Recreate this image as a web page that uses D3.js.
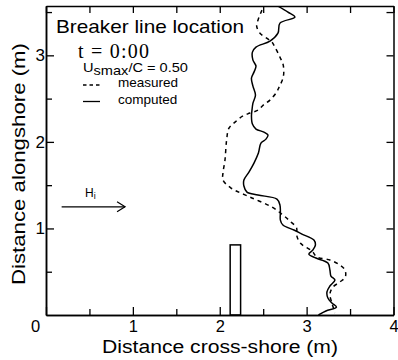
<!DOCTYPE html>
<html>
<head>
<meta charset="utf-8">
<script src="https://cdn.jsdelivr.net/npm/d3@7"></script>
<style>
  html, body { margin: 0; padding: 0; background: #fff; }
  svg { display: block; }
  text { fill: #000; }
</style>
</head>
<body>
<svg id="chart" width="398" height="360"></svg>
<script>
// Breaker line position along the shore: measured vs computed (t = 0:00)
const xTickValues = [0, 1, 2, 3, 4];
const yTickValues = [1, 2, 3];
const minorTickValuesX = [0.5, 1.5, 2.5, 3.5];
const minorTickValuesY = [0.5, 1.5, 2.5, 3.5];

// computed breaker line (cross-shore, alongshore) in metres
const computedCross = [2.67, 2.785, 2.865, 2.693, 2.67, 2.578, 2.417, 2.376, 2.382, 2.417, 2.394, 2.365, 2.382, 2.411, 2.382, 2.371, 2.365, 2.376, 2.417, 2.509, 2.555, 2.532, 2.474, 2.445, 2.394, 2.336, 2.278, 2.278, 2.313, 2.44, 2.658, 2.693, 2.698, 2.698, 2.727, 2.854, 2.946, 3.084, 3.101, 3.072, 3.026, 3.107, 3.245, 3.268, 3.28, 3.326, 3.268, 3.234, 3.245, 3.291, 3.343, 3.222, 3.136];
const computedAlong = [3.568, 3.499, 3.441, 3.372, 3.256, 3.164, 3.095, 3.037, 2.945, 2.875, 2.806, 2.737, 2.644, 2.54, 2.448, 2.367, 2.298, 2.206, 2.148, 2.113, 2.079, 2.032, 1.986, 1.871, 1.755, 1.651, 1.559, 1.49, 1.42, 1.386, 1.339, 1.27, 1.189, 1.097, 1.039, 0.982, 0.935, 0.866, 0.808, 0.751, 0.704, 0.658, 0.6, 0.52, 0.45, 0.404, 0.335, 0.266, 0.196, 0.139, 0.092, 0.046, 0.0];

// measured breaker line
const measuredCross = [2.486, 2.44, 2.425, 2.463, 2.54, 2.601, 2.635, 2.693, 2.731, 2.731, 2.683, 2.655, 2.578, 2.501, 2.44, 2.347, 2.262, 2.176, 2.106, 2.079, 2.06, 2.037, 2.037, 2.13, 2.347, 2.601, 2.727, 2.808, 2.885, 2.885, 2.927, 3.061, 3.119, 3.268, 3.384, 3.441, 3.446, 3.383, 3.303, 3.268, 3.291, 3.326];
const measuredAlong = [3.522, 3.406, 3.337, 3.256, 3.199, 3.152, 3.095, 2.979, 2.887, 2.748, 2.633, 2.575, 2.483, 2.425, 2.367, 2.333, 2.298, 2.229, 2.159, 2.021, 1.79, 1.64, 1.559, 1.467, 1.363, 1.247, 1.155, 1.085, 1.005, 0.924, 0.831, 0.739, 0.67, 0.635, 0.577, 0.52, 0.439, 0.381, 0.323, 0.242, 0.139, 0.023];

// structure footprint (cross-shore edges, alongshore extent)
const structureCross = [2.12, 2.24];
const structureAlong = [0, 0.81];

// incident wave direction arrow
const waveArrowCross = [0.18, 0.91];
const waveArrowAlong = 1.25;

const svg = d3.select("#chart");
const plotLeft = 46, plotRight = 393.5, plotTop = 6, plotBottom = 315;

const x = d3.scaleLinear().domain([0, 4]).range([plotLeft, plotRight]);
const y = d3.scaleLinear().domain([0, 3.57]).range([plotBottom, plotTop]);

const sans = "'Liberation Sans', Arial, Helvetica, sans-serif";
const serif = "'Liberation Serif', 'Times New Roman', serif";

function styleAxis(g) {
  g.selectAll("path.domain").attr("stroke", "#000").attr("stroke-width", 1.5);
  g.selectAll(".tick line").attr("stroke", "#000").attr("stroke-width", 1.3);
  g.selectAll(".tick text").attr("font-family", sans).attr("font-size", 17).attr("fill", "#000");
}

// bottom axis with labels
const gx = svg.append("g").attr("transform", `translate(0,${plotBottom})`)
  .call(d3.axisBottom(x).tickValues(xTickValues).tickSize(-8).tickSizeOuter(0).tickPadding(5).tickFormat(d3.format("d")));
styleAxis(gx);
gx.selectAll(".tick text").attr("font-size", 16.5);
gx.selectAll(".tick text").filter(d => d === 0).attr("dx", -11);
svg.append("g").attr("transform", `translate(0,${plotBottom})`)
  .call(d3.axisBottom(x).tickValues(minorTickValuesX).tickSize(-6).tickSizeOuter(0).tickFormat(""))
  .call(styleAxis);

// left axis with labels
const gy = svg.append("g").attr("transform", `translate(${plotLeft},0)`)
  .call(d3.axisLeft(y).tickValues(yTickValues).tickSize(-8).tickSizeOuter(0).tickPadding(1).tickFormat(d3.format("d")));
styleAxis(gy);
svg.append("g").attr("transform", `translate(${plotLeft},0)`)
  .call(d3.axisLeft(y).tickValues(minorTickValuesY).tickSize(-6).tickSizeOuter(0).tickFormat(""))
  .call(styleAxis);

// top and right frame with inward ticks
svg.append("g").attr("transform", `translate(0,${plotTop})`)
  .call(d3.axisTop(x).tickValues(xTickValues.concat(minorTickValuesX)).tickSize(-7).tickSizeOuter(0).tickFormat(""))
  .call(styleAxis);
svg.append("g").attr("transform", `translate(${plotRight},0)`)
  .call(d3.axisRight(y).tickValues(yTickValues.concat(minorTickValuesY)).tickSize(-7).tickSizeOuter(0).tickFormat(""))
  .call(styleAxis);

// axis titles
svg.append("text")
  .attr("x", 220).attr("y", 353)
  .attr("text-anchor", "middle")
  .attr("font-family", sans).attr("font-size", 18)
  .attr("textLength", 236).attr("lengthAdjust", "spacingAndGlyphs")
  .text("Distance cross-shore (m)");
svg.append("text")
  .attr("transform", "translate(25,164) rotate(-90)")
  .attr("text-anchor", "middle")
  .attr("font-family", sans).attr("font-size", 19)
  .attr("textLength", 242).attr("lengthAdjust", "spacingAndGlyphs")
  .text("Distance alongshore (m)");

svg.append("clipPath").attr("id", "plot-clip")
  .append("rect").attr("x", plotLeft).attr("y", plotTop)
  .attr("width", plotRight - plotLeft).attr("height", plotBottom - plotTop);

const line = d3.line().x(d => x(d[0])).y(d => y(d[1])).curve(d3.curveCatmullRom.alpha(0.5));

const computed = d3.zip(computedCross, computedAlong);
const measured = d3.zip(measuredCross, measuredAlong);

const plot = svg.append("g").attr("clip-path", "url(#plot-clip)");
plot.append("path").datum(measured)
  .attr("d", line).attr("fill", "none").attr("stroke", "#000")
  .attr("stroke-width", 1.5).attr("stroke-dasharray", "4,4");
plot.append("path").datum(computed)
  .attr("d", line).attr("fill", "none").attr("stroke", "#000")
  .attr("stroke-width", 1.5);

// structure
plot.append("rect")
  .attr("x", x(structureCross[0])).attr("y", y(structureAlong[1]))
  .attr("width", x(structureCross[1]) - x(structureCross[0]))
  .attr("height", y(structureAlong[0]) - y(structureAlong[1]))
  .attr("fill", "none").attr("stroke", "#000").attr("stroke-width", 1.5);

// annotations
const ann = svg.append("g");
ann.append("text").attr("x", 56).attr("y", 33)
  .attr("font-family", sans).attr("font-size", 18.5)
  .attr("textLength", 188).attr("lengthAdjust", "spacingAndGlyphs")
  .text("Breaker line location");
ann.append("text").attr("x", 78).attr("y", 57.5)
  .attr("font-family", serif).attr("font-size", 20)
  .attr("textLength", 71).attr("lengthAdjust", "spacing")
  .text("t = 0:00");

const usm = ann.append("text").attr("x", 83).attr("y", 72)
  .attr("font-family", sans).attr("font-size", 13.5)
  .attr("textLength", 105).attr("lengthAdjust", "spacingAndGlyphs");
usm.append("tspan").text("U");
usm.append("tspan").attr("dy", 2.5).text("smax");
usm.append("tspan").attr("dy", -2.5).text("/C = 0.50");

ann.append("line").attr("x1", 83).attr("x2", 100).attr("y1", 85).attr("y2", 85)
  .attr("stroke", "#000").attr("stroke-width", 1.3).attr("stroke-dasharray", "3.5,3");
ann.append("text").attr("x", 118).attr("y", 87)
  .attr("font-family", sans).attr("font-size", 13.5).text("measured");
ann.append("line").attr("x1", 83).attr("x2", 100).attr("y1", 101.5).attr("y2", 101.5)
  .attr("stroke", "#000").attr("stroke-width", 1.3);
ann.append("text").attr("x", 118).attr("y", 103.5)
  .attr("font-family", sans).attr("font-size", 13.5).text("computed");

// incident wave arrow
const ax0 = x(waveArrowCross[0]), ax1 = x(waveArrowCross[1]), ay = y(waveArrowAlong);
ann.append("line").attr("x1", ax0).attr("x2", ax1).attr("y1", ay).attr("y2", ay)
  .attr("stroke", "#000").attr("stroke-width", 1.2);
ann.append("path")
  .attr("d", `M${ax1 - 8},${ay - 5} L${ax1},${ay} L${ax1 - 8},${ay + 5}`)
  .attr("fill", "none").attr("stroke", "#000").attr("stroke-width", 1.2);
const hi = ann.append("text").attr("x", 85).attr("y", 196.5)
  .attr("font-family", sans).attr("font-size", 12);
hi.append("tspan").text("H");
hi.append("tspan").attr("dy", 2).attr("font-size", 9).text("i");
</script>
</body>
</html>
